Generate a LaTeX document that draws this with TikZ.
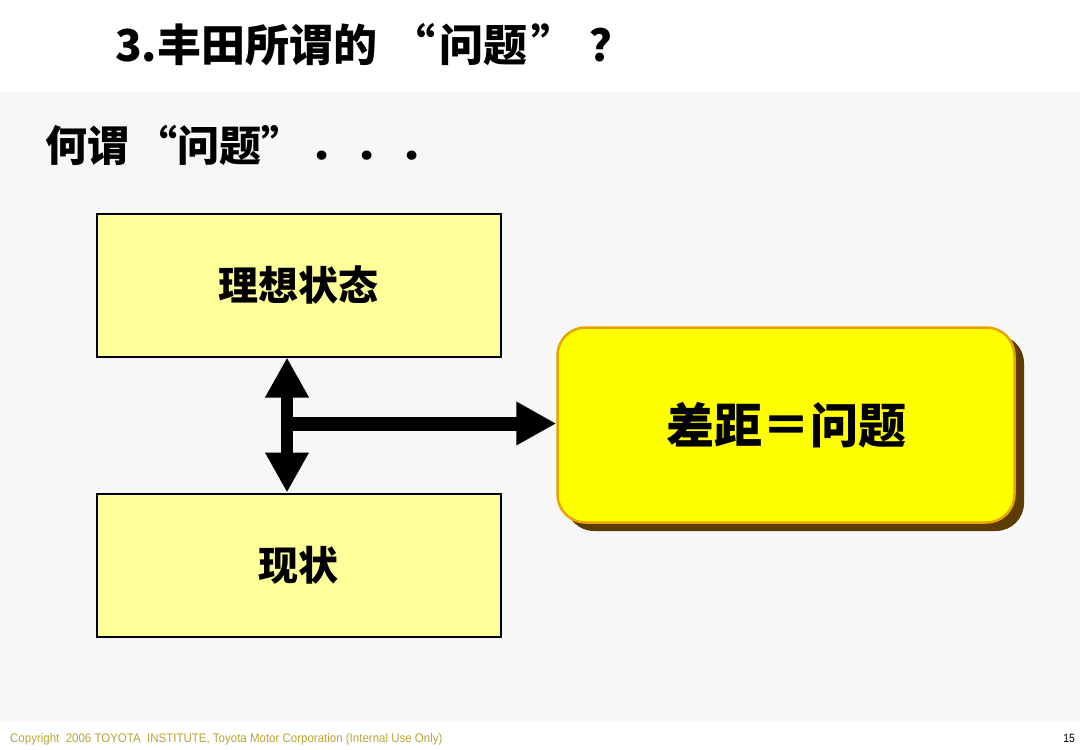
\documentclass[tikz,border=0pt]{standalone}
\usepackage{fontspec}
\setmainfont{Liberation Sans}
\newfontfamily\cjk{Noto Sans CJK SC}
\usetikzlibrary{arrows.meta}
\definecolor{bandgray}{HTML}{F7F7F7}
\definecolor{paleyellow}{HTML}{FFFF99}
\definecolor{brightyellow}{HTML}{FFFF00}
\definecolor{goldborder}{HTML}{E8A400}
\definecolor{shadowbrown}{HTML}{5C3C00}
\definecolor{footgold}{HTML}{B8A535}
\tikzset{
  statebox/.style={draw=black, line width=2pt, fill=paleyellow, minimum width=404pt, minimum height=143pt, inner sep=0pt, font=\cjk\bfseries\fontsize{40}{40}\selectfont},
  gapbox/.style={draw=goldborder, line width=2.5pt, fill=brightyellow, rounded corners=28pt, minimum width=457pt, minimum height=195pt, inner sep=0pt, font=\cjk\bfseries\fontsize{48}{48}\selectfont},
  fatarrow/.style={line width=14pt, draw=black, -{Triangle[length=40pt,width=41pt]}},
  fatdouble/.style={line width=12pt, draw=black, {Triangle[length=40pt,width=41pt]}-{Triangle[length=40pt,width=41pt]}},
  titletext/.style={anchor=west, inner sep=0pt, font=\cjk\bfseries\fontsize{44}{44}\selectfont},
}
\begin{document}
\begin{tikzpicture}[x=1pt,y=-1pt]
\useasboundingbox (0,0) rectangle (1080,750);
\fill[white] (0,0) rectangle (1080,750);
\fill[bandgray] (0,92) rectangle (1080,722);
% title
\node[titletext] (title) at (115,45) {3.丰田所谓的\hspace{14pt}“\hspace{4pt}问题\hspace{4pt}”\hspace{14pt}？};
\node[titletext, font=\cjk\bfseries\fontsize{42}{42}\selectfont] (sub) at (45,145) {何谓\hspace{6pt}“问题”\hspace{6pt}．\hspace{3pt}．\hspace{3pt}．};
% boxes
\node[statebox] (ideal) at (298.5,285) {理想状态};
\node[statebox] (now) at (298.5,565) {现状};
\fill[shadowbrown, rounded corners=28pt] (566,335) rectangle (1024,531);
\node[gapbox] (gap) at (786,425) {差距＝问题};
% arrows
\coordinate (junc) at (287,423.5);
\draw[fatarrow] (junc) -- (gap.west |- junc);
\draw[fatdouble] ([xshift=-11.5pt]ideal.south) -- ([xshift=-11.5pt]now.north);
% footer
\node[anchor=west, inner sep=0pt, text=footgold, font=\fontsize{12.5}{12.5}\selectfont, xscale=0.92] (copy) at (10,739) {Copyright\ \ 2006 TOYOTA\ \ INSTITUTE, Toyota Motor Corporation (Internal Use Only)};
\node[anchor=east, inner sep=0pt, font=\fontsize{12}{12}\selectfont, xscale=0.86] (page) at (1075,738) {15};
\end{tikzpicture}
\end{document}
